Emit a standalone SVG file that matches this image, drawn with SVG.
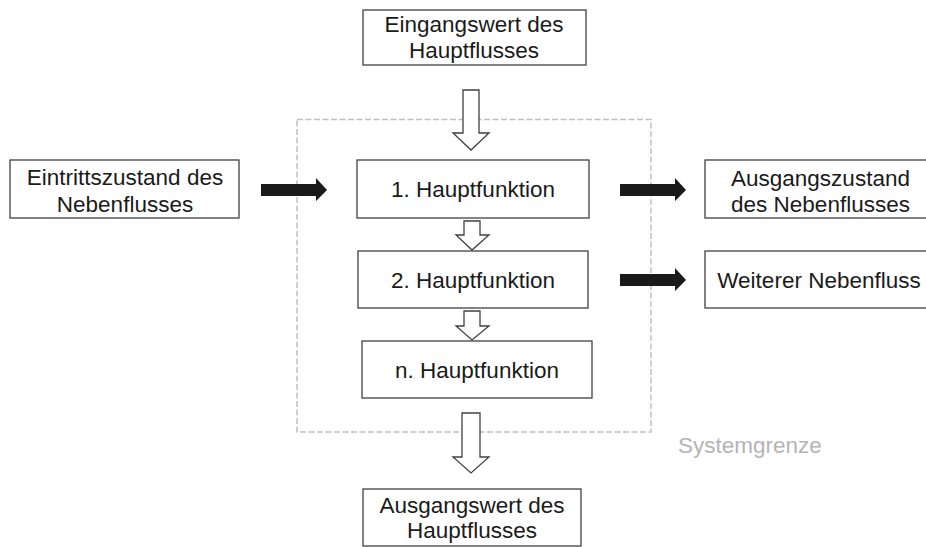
<svg xmlns="http://www.w3.org/2000/svg" width="926" height="547" viewBox="0 0 926 547">
  <style>
    .box { fill: #ffffff; stroke: #404040; stroke-width: 1.3; }
    .lbl { font-family: "Liberation Sans", Arial, sans-serif; font-size: 22.5px; fill: #1a1a1a; text-anchor: middle; }
    .hollow { fill: #ffffff; stroke: #404040; stroke-width: 1.3; stroke-linejoin: miter; }
    .solid { fill: #1a1a1a; stroke: none; }
    .border { fill: none; stroke: #c0c0c0; stroke-width: 1.5; stroke-dasharray: 6 2.5; }
    .note { font-family: "Liberation Sans", Arial, sans-serif; font-size: 22.5px; fill: #b4b4b4; }
  </style>
  <rect width="926" height="547" fill="#ffffff"/>

  <!-- system boundary -->
  <rect class="border" x="297" y="119.5" width="354" height="312.5"/>
  <text class="note" x="678" y="453">Systemgrenze</text>

  <g id="input-main">
    <rect class="box" x="363" y="10" width="223" height="55"/>
    <text class="lbl" x="474" y="32">Eingangswert des</text>
    <text class="lbl" x="474" y="58">Hauptflusses</text>
  </g>

  <g id="input-side">
    <rect class="box" x="10" y="160" width="229" height="58"/>
    <text class="lbl" x="125" y="185">Eintrittszustand des</text>
    <text class="lbl" x="125" y="212">Nebenflusses</text>
  </g>

  <g id="function-1">
    <rect class="box" x="357" y="160" width="232" height="58"/>
    <text class="lbl" x="473" y="197">1. Hauptfunktion</text>
  </g>

  <g id="function-2">
    <rect class="box" x="358" y="251" width="230" height="57"/>
    <text class="lbl" x="473" y="288">2. Hauptfunktion</text>
  </g>

  <g id="function-n">
    <rect class="box" x="362" y="341" width="230" height="57"/>
    <text class="lbl" x="477" y="378">n. Hauptfunktion</text>
  </g>

  <g id="output-side">
    <rect class="box" x="705" y="160" width="235" height="58"/>
    <text class="lbl" x="820.5" y="186">Ausgangszustand</text>
    <text class="lbl" x="820.5" y="212">des Nebenflusses</text>
  </g>

  <g id="further-side">
    <rect class="box" x="705" y="251" width="235" height="57"/>
    <text class="lbl" x="819" y="288">Weiterer Nebenfluss</text>
  </g>

  <g id="output-main">
    <rect class="box" x="363" y="489" width="218" height="57"/>
    <text class="lbl" x="472" y="513">Ausgangswert des</text>
    <text class="lbl" x="472" y="538">Hauptflusses</text>
  </g>

  <g id="connectors">
    <!-- main flow (hollow arrows) -->
    <polygon class="hollow" points="463,90 479,90 479,133 489,133 471,150 453,133 463,133"/>
    <polygon class="hollow" points="464,221 480,221 480,235 489,235 472,250 456,235 464,235"/>
    <polygon class="hollow" points="464,311 480,311 480,326 489,326 472,340 456,326 464,326"/>
    <polygon class="hollow" points="462,413 480,413 480,457 489,457 471,473 453,457 462,457"/>
    <!-- side flows (solid arrows) -->
    <polygon class="solid" points="261,184 316,184 316,178 327,190 316,201 316,196 261,196"/>
    <polygon class="solid" points="620,184 675,184 675,178 686,190 675,201 675,196 620,196"/>
    <polygon class="solid" points="620,274 675,274 675,268 686,280 675,291 675,286 620,286"/>
  </g>
</svg>
